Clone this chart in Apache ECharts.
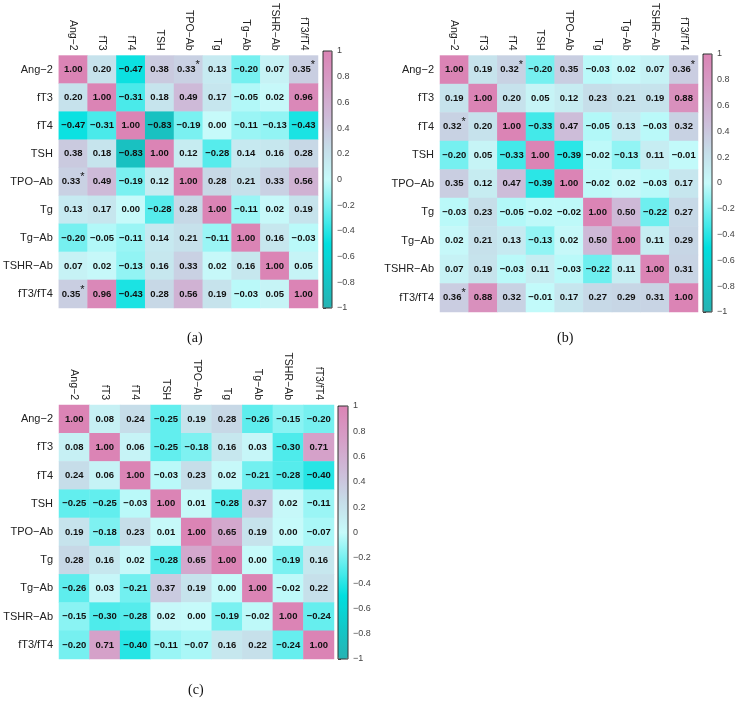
<!DOCTYPE html>
<html>
<head>
<meta charset="utf-8">
<style>
  html, body { margin: 0; padding: 0; background: #fff; }
  #main { width: 739px; height: 704px; }
</style>
<script src="https://cdn.jsdelivr.net/npm/echarts@6/dist/echarts.min.js"></script>
</head>
<body>
<div id="main"></div>
<script>
(function() {

const M = '\u2212'
let vars = ['Ang' + M + '2', 'fT3', 'fT4', 'TSH', 'TPO' + M + 'Ab', 'Tg', 'Tg' + M + 'Ab', 'TSHR' + M + 'Ab', 'fT3/fT4']

// (a)
let corrA = [
    [1.00, 0.20, -0.47, 0.38, 0.33, 0.13, -0.20, 0.07, 0.35],
    [0.20, 1.00, -0.31, 0.18, 0.49, 0.17, -0.05, 0.02, 0.96],
    [-0.47, -0.31, 1.00, -0.83, -0.19, 0.00, -0.11, -0.13, -0.43],
    [0.38, 0.18, -0.83, 1.00, 0.12, -0.28, 0.14, 0.16, 0.28],
    [0.33, 0.49, -0.19, 0.12, 1.00, 0.28, 0.21, 0.33, 0.56],
    [0.13, 0.17, 0.00, -0.28, 0.28, 1.00, -0.11, 0.02, 0.19],
    [-0.20, -0.05, -0.11, 0.14, 0.21, -0.11, 1.00, 0.16, -0.03],
    [0.07, 0.02, -0.13, 0.16, 0.33, 0.02, 0.16, 1.00, 0.05],
    [0.35, 0.96, -0.43, 0.28, 0.56, 0.19, -0.03, 0.05, 1.00]
]
// (b)
let corrB = [
    [1.00, 0.19, 0.32, -0.20, 0.35, -0.03, 0.02, 0.07, 0.36],
    [0.19, 1.00, 0.20, 0.05, 0.12, 0.23, 0.21, 0.19, 0.88],
    [0.32, 0.20, 1.00, -0.33, 0.47, -0.05, 0.13, -0.03, 0.32],
    [-0.20, 0.05, -0.33, 1.00, -0.39, -0.02, -0.13, 0.11, -0.01],
    [0.35, 0.12, 0.47, -0.39, 1.00, -0.02, 0.02, -0.03, 0.17],
    [-0.03, 0.23, -0.05, -0.02, -0.02, 1.00, 0.50, -0.22, 0.27],
    [0.02, 0.21, 0.13, -0.13, 0.02, 0.50, 1.00, 0.11, 0.29],
    [0.07, 0.19, -0.03, 0.11, -0.03, -0.22, 0.11, 1.00, 0.31],
    [0.36, 0.88, 0.32, -0.01, 0.17, 0.27, 0.29, 0.31, 1.00]
]
// (c)
let corrC = [
    [1.00, 0.08, 0.24, -0.25, 0.19, 0.28, -0.26, -0.15, -0.20],
    [0.08, 1.00, 0.06, -0.25, -0.18, 0.16, 0.03, -0.30, 0.71],
    [0.24, 0.06, 1.00, -0.03, 0.23, 0.02, -0.21, -0.28, -0.40],
    [-0.25, -0.25, -0.03, 1.00, 0.01, -0.28, 0.37, 0.02, -0.11],
    [0.19, -0.18, 0.23, 0.01, 1.00, 0.65, 0.19, 0.00, -0.07],
    [0.28, 0.16, 0.02, -0.28, 0.65, 1.00, 0.00, -0.19, 0.16],
    [-0.26, 0.03, -0.21, 0.37, 0.19, 0.00, 1.00, -0.02, 0.22],
    [-0.15, -0.30, -0.28, 0.02, 0.00, -0.19, -0.02, 1.00, -0.24],
    [-0.20, 0.71, -0.40, -0.11, -0.07, 0.16, 0.22, -0.24, 1.00]
]
// significant cells [row, col]
let starsA = [[0, 4], [4, 0], [0, 8], [8, 0]]
let starsB = [[0, 2], [2, 0], [0, 8], [8, 0]]
let starsC = []

let colorStops = ['#27b2b2', '#12c8c8', '#00dfdf', '#62eeee', '#c6fafa', '#c6dce8', '#ceb9d7', '#d69dc6', '#db84b5']
let font = '"Liberation Sans", Arial, sans-serif'

// panel layout: heatmap grid + colorbar rect + caption
let panels = [
    {m: corrA, s: starsA, g: {left: 57, top: 50, width: 261, height: 258}, cb: {left: 323, top: 51, width: 9, height: 257}, cap: ['(a)', 197, 340]},
    {m: corrB, s: starsB, g: {left: 440, top: 54, width: 258, height: 258}, cb: {left: 703, top: 54, width: 9, height: 258}, cap: ['(b)', 567, 340]},
    {m: corrC, s: starsC, g: {left: 59, top: 405, width: 275, height: 254}, cb: {left: 338, top: 406, width: 10, height: 253}, cap: ['(c)', 198, 692]}
]

let fmt = v => (Math.abs(v) < 1e-9 ? '0.00' : v.toFixed(2)).replace('-', M)

let grid = [], xAxis = [], yAxis = [], series = [], visualMap = [], graphic = []
panels.forEach((p, i) => {
    let gi = grid.length
    grid.push(Object.assign({}, p.g))
    xAxis.push({
        type: 'category', gridIndex: gi, data: vars, position: 'top',
        axisLine: {show: false}, axisTick: {show: false}, splitArea: {show: false},
        axisLabel: {rotate: 90, fontSize: 10.5, color: '#222', fontFamily: font, margin: 5, interval: 0}
    })
    yAxis.push({
        type: 'category', gridIndex: gi, data: vars, inverse: true,
        axisLine: {show: false}, axisTick: {show: false},
        axisLabel: {fontSize: 11, color: '#222', fontFamily: font, margin: 6, interval: 0}
    })
    let sig = new Set(p.s.map(d => d[0] + '_' + d[1]))
    let data = []
    p.m.forEach((row, r) => row.forEach((v, c) => data.push([c, r, v])))
    let si = series.length
    series.push({
        type: 'heatmap', xAxisIndex: gi, yAxisIndex: gi, data: data,
        label: {
            show: true,
            formatter: prm => {
                let key = prm.data[1] + '_' + prm.data[0]
                let t = '{v|' + fmt(prm.data[2]) + '}'
                return sig.has(key) ? t + '{s|*}' : t + '{e| }'
            },
            rich: {
                v: {fontSize: 9.5, fontWeight: 'bold', color: '#111', fontFamily: font},
                s: {fontSize: 11, color: '#111', fontFamily: font, padding: [0, 0, 9, 0]},
                e: {fontSize: 11, width: 0}
            }
        },
        emphasis: {disabled: true}
    })
    visualMap.push({
        type: 'continuous', seriesIndex: si, min: -1, max: 1,
        calculable: false, show: true, orient: 'vertical',
        left: p.cb.left, top: p.cb.top, itemWidth: p.cb.width, itemHeight: p.cb.height,
        padding: 0, text: null, showLabel: false,
        inRange: {color: colorStops}
    })
    // colorbar frame + tick labels
    let ci = grid.length
    grid.push(Object.assign({show: true, borderColor: '#333', borderWidth: 1, backgroundColor: 'transparent', z: 10}, p.cb))
    xAxis.push({type: 'value', gridIndex: ci, show: false, min: 0, max: 1})
    yAxis.push({
        type: 'value', gridIndex: ci, position: 'right', min: -1, max: 1, interval: 0.2,
        axisLine: {show: false}, splitLine: {show: false},
        axisTick: {show: true, length: 3, lineStyle: {color: '#555'}},
        axisLabel: {
            fontSize: 9, color: '#444', fontFamily: font, margin: 5,
            formatter: v => Math.abs(v) < 1e-9 ? '0' : String(+v.toFixed(1)).replace('-', M)
        }
    })
    graphic.push({
        type: 'text', left: p.cap[1] - 10, top: p.cap[2] - 9,
        style: {text: p.cap[0], font: '14px "Liberation Serif", "Times New Roman", serif', fill: '#111'}
    })
})

let chart = echarts.init(document.getElementById('main'), null, {renderer: 'canvas'})
chart.setOption({
    backgroundColor: '#fff',
    animation: false,
    grid: grid,
    xAxis: xAxis,
    yAxis: yAxis,
    visualMap: visualMap,
    series: series,
    graphic: graphic
})

})()
</script>
</body>
</html>
